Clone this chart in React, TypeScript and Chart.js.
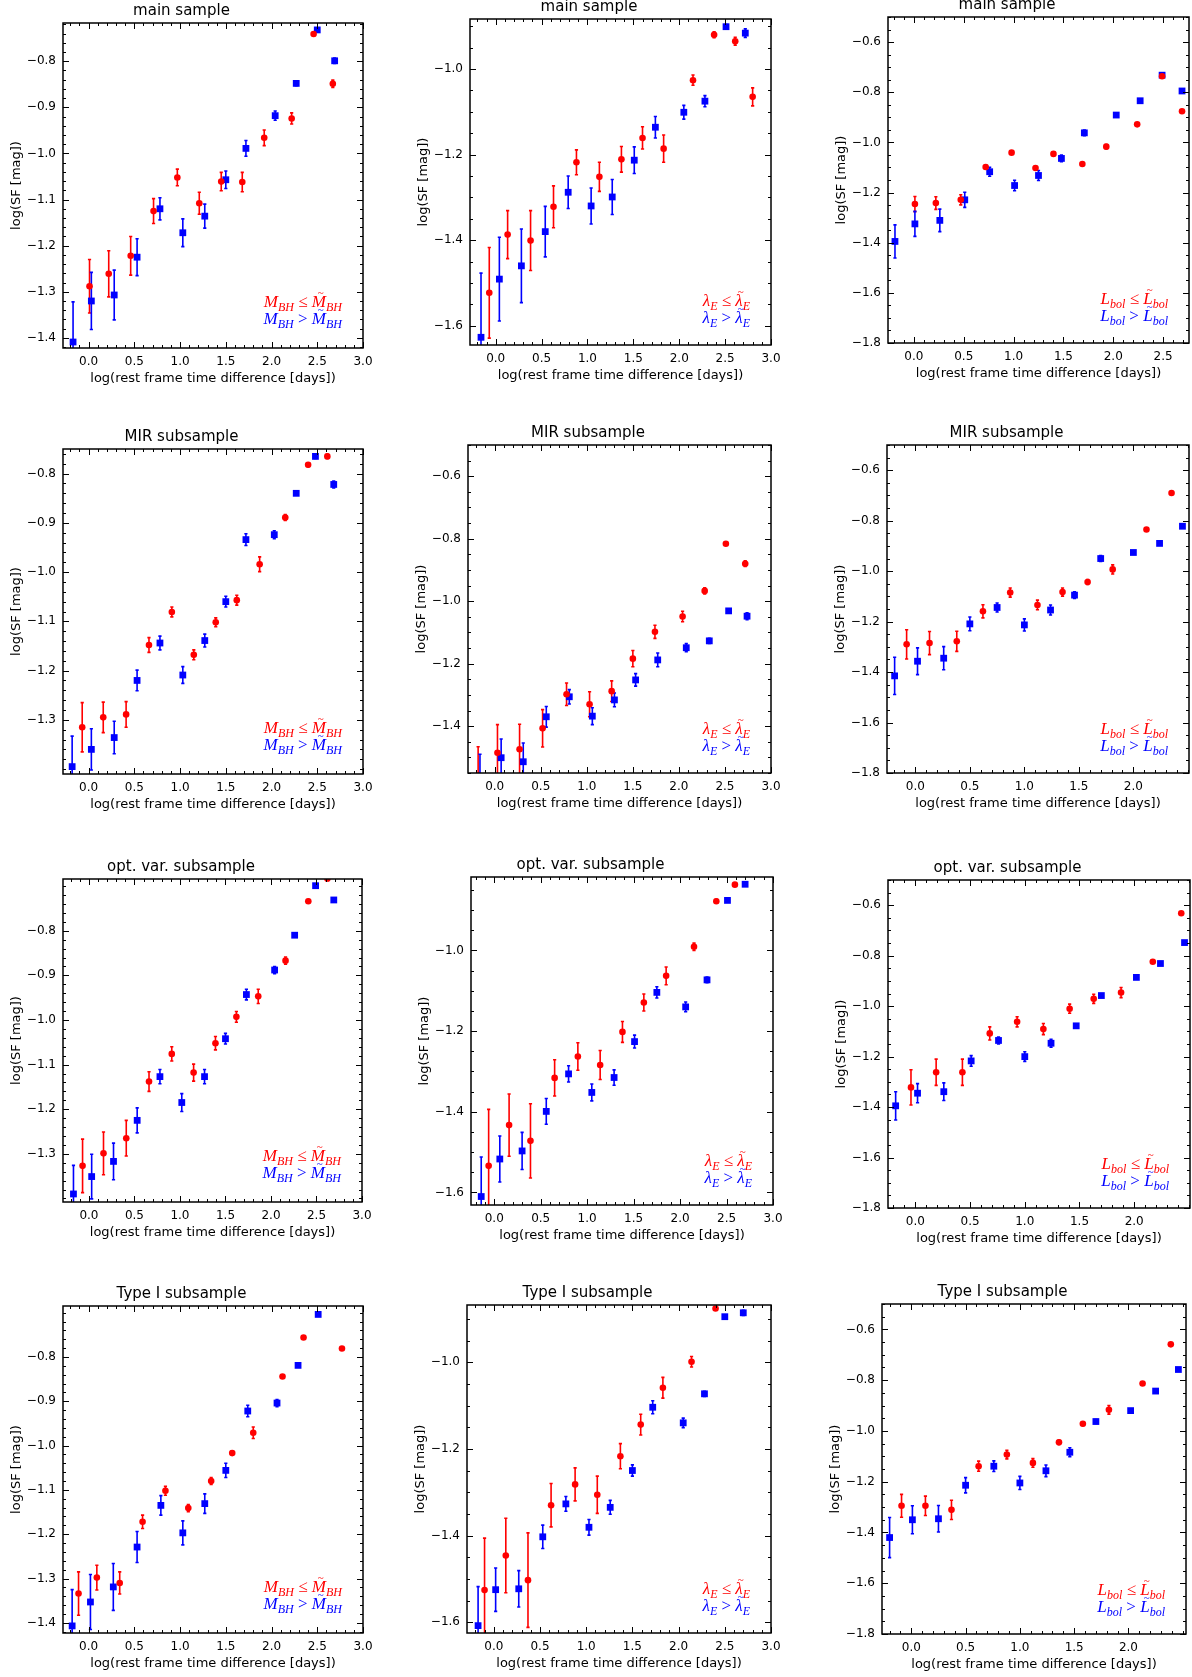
import React, { useEffect, useRef } from 'react';
import { Chart, registerables } from 'chart.js';

Chart.register(...registerables);

// ---------- Titles / tick labels ----------
const rowTitles = ['main sample', 'MIR subsample', 'opt. var. subsample', 'Type I subsample'];
const xTicksWide = [0, 0.5, 1.0, 1.5, 2.0, 2.5, 3.0];
const xTicksMid = [0, 0.5, 1.0, 1.5, 2.0, 2.5];
const xTicksShort = [0, 0.5, 1.0, 1.5, 2.0];
const yTicksCol1a = [-1.4, -1.3, -1.2, -1.1, -1.0, -0.9, -0.8];
const yTicksCol1b = [-1.3, -1.2, -1.1, -1.0, -0.9, -0.8];
const yTicksCol2a = [-1.6, -1.4, -1.2, -1.0];
const yTicksCol2b = [-1.4, -1.2, -1.0, -0.8, -0.6];
const yTicksCol3 = [-1.8, -1.6, -1.4, -1.2, -1.0, -0.8, -0.6];

// ---------- Panel 1: main sample, M_BH ----------
const p1RedX = [0.01, 0.22, 0.46, 0.71, 0.97, 1.21, 1.45, 1.68, 1.92, 2.22, 2.46, 2.67];
const p1RedY = [-1.288, -1.261, -1.222, -1.125, -1.052, -1.108, -1.061, -1.062, -0.966, -0.924, -0.741, -0.849];
const p1RedE = [0.058, 0.05, 0.042, 0.027, 0.018, 0.024, 0.02, 0.021, 0.017, 0.012, 0.004, 0.008];
const p1BlueX = [-0.17, 0.03, 0.28, 0.53, 0.78, 1.03, 1.27, 1.5, 1.72, 2.04, 2.27, 2.5, 2.69];
const p1BlueY = [-1.409, -1.32, -1.307, -1.225, -1.12, -1.172, -1.136, -1.057, -0.989, -0.918, -0.848, -0.732, -0.799];
const p1BlueE = [0.087, 0.062, 0.054, 0.04, 0.024, 0.03, 0.026, 0.019, 0.017, 0.01, 0.005, 0.004, 0.006];

// ---------- Panel 2: main sample, lambda_E ----------
const p2RedX = [-0.07, 0.13, 0.38, 0.63, 0.88, 1.13, 1.37, 1.6, 1.83, 2.15, 2.38, 2.61, 2.8];
const p2RedY = [-1.523, -1.387, -1.401, -1.322, -1.218, -1.252, -1.211, -1.161, -1.186, -1.026, -0.92, -0.935, -1.065];
const p2RedE = [0.106, 0.056, 0.07, 0.049, 0.029, 0.034, 0.03, 0.026, 0.032, 0.012, 0.007, 0.009, 0.021];
const p2BlueX = [-0.16, 0.04, 0.28, 0.54, 0.79, 1.04, 1.27, 1.51, 1.74, 2.05, 2.28, 2.51, 2.72];
const p2BlueY = [-1.627, -1.491, -1.46, -1.38, -1.288, -1.32, -1.299, -1.213, -1.136, -1.101, -1.075, -0.901, -0.916];
const p2BlueE = [0.15, 0.098, 0.086, 0.059, 0.038, 0.042, 0.041, 0.031, 0.025, 0.016, 0.013, 0.005, 0.01];

// ---------- Panel 3: main sample, L_bol ----------
const p3RedX = [0.01, 0.22, 0.47, 0.72, 0.98, 1.22, 1.4, 1.69, 1.93, 2.24, 2.49, 2.69];
const p3RedY = [-1.246, -1.242, -1.229, -1.098, -1.041, -1.102, -1.046, -1.086, -1.017, -0.928, -0.736, -0.876];
const p3RedE = [0.03, 0.025, 0.02, 0.008, 0.005, 0.006, 0.006, 0.005, 0.008, 0.005, 0.005, 0.006];
const p3BlueX = [-0.19, 0.01, 0.26, 0.51, 0.76, 1.01, 1.25, 1.48, 1.71, 2.03, 2.27, 2.49, 2.69];
const p3BlueY = [-1.395, -1.325, -1.311, -1.229, -1.117, -1.172, -1.132, -1.064, -0.962, -0.891, -0.834, -0.732, -0.795];
const p3BlueE = [0.066, 0.05, 0.045, 0.03, 0.018, 0.021, 0.02, 0.013, 0.011, 0.005, 0.005, 0.004, 0.004];

// ---------- Panel 4: MIR subsample, M_BH ----------
const p4RedX = [-0.07, 0.16, 0.41, 0.66, 0.91, 1.15, 1.39, 1.62, 1.87, 2.15, 2.4, 2.61];
const p4RedY = [-1.315, -1.295, -1.289, -1.148, -1.081, -1.168, -1.102, -1.057, -0.984, -0.889, -0.782, -0.765];
const p4RedE = [0.05, 0.031, 0.026, 0.015, 0.01, 0.01, 0.009, 0.01, 0.015, 0.006, 0.004, 0.004];
const p4BlueX = [-0.18, 0.03, 0.28, 0.53, 0.78, 1.03, 1.27, 1.5, 1.72, 2.03, 2.27, 2.48, 2.68];
const p4BlueY = [-1.395, -1.36, -1.336, -1.22, -1.144, -1.209, -1.139, -1.06, -0.934, -0.924, -0.84, -0.765, -0.822];
const p4BlueE = [0.062, 0.042, 0.033, 0.021, 0.014, 0.017, 0.013, 0.011, 0.012, 0.008, 0.004, 0.004, 0.007];

// ---------- Panel 5: MIR subsample, lambda_E ----------
const p5RedX = [-0.18, 0.03, 0.27, 0.52, 0.78, 1.03, 1.27, 1.5, 1.74, 2.04, 2.28, 2.51, 2.72];
const p5RedY = [-1.58, -1.485, -1.474, -1.407, -1.298, -1.33, -1.288, -1.184, -1.098, -1.049, -0.967, -0.816, -0.88];
const p5RedE = [0.114, 0.09, 0.08, 0.06, 0.036, 0.04, 0.033, 0.026, 0.021, 0.017, 0.01, 0.005, 0.009];
const p5BlueX = [-0.16, 0.07, 0.31, 0.56, 0.81, 1.06, 1.3, 1.53, 1.77, 2.08, 2.33, 2.54, 2.74];
const p5BlueY = [-1.58, -1.501, -1.514, -1.37, -1.306, -1.368, -1.316, -1.252, -1.188, -1.149, -1.127, -1.031, -1.048];
const p5BlueE = [0.09, 0.06, 0.06, 0.033, 0.023, 0.027, 0.022, 0.02, 0.022, 0.013, 0.008, 0.004, 0.011];

// ---------- Panel 6: MIR subsample, L_bol ----------
const p6RedX = [-0.08, 0.13, 0.38, 0.62, 0.87, 1.12, 1.35, 1.58, 1.81, 2.12, 2.35];
const p6RedY = [-1.29, -1.285, -1.278, -1.159, -1.085, -1.134, -1.083, -1.043, -0.993, -0.835, -0.69];
const p6RedE = [0.058, 0.046, 0.04, 0.026, 0.018, 0.019, 0.016, 0.01, 0.018, 0.004, 0.004];
const p6BlueX = [-0.19, 0.02, 0.26, 0.5, 0.75, 1.0, 1.24, 1.46, 1.7, 2.0, 2.24, 2.45];
const p6BlueY = [-1.415, -1.357, -1.345, -1.209, -1.144, -1.213, -1.154, -1.095, -0.95, -0.926, -0.89, -0.822];
const p6BlueE = [0.074, 0.053, 0.046, 0.027, 0.018, 0.024, 0.02, 0.013, 0.012, 0.004, 0.004, 0.004];

// ---------- Panel 7: opt. var. subsample, M_BH ----------
const p7RedX = [-0.07, 0.16, 0.41, 0.66, 0.91, 1.15, 1.39, 1.62, 1.86, 2.16, 2.41, 2.62];
const p7RedY = [-1.327, -1.299, -1.265, -1.138, -1.076, -1.118, -1.052, -0.993, -0.947, -0.867, -0.734, -0.683];
const p7RedE = [0.06, 0.048, 0.04, 0.022, 0.016, 0.019, 0.015, 0.012, 0.016, 0.008, 0.004, 0.004];
const p7BlueX = [-0.17, 0.03, 0.27, 0.53, 0.78, 1.02, 1.27, 1.5, 1.73, 2.04, 2.26, 2.49, 2.69];
const p7BlueY = [-1.39, -1.351, -1.317, -1.225, -1.127, -1.185, -1.127, -1.042, -0.943, -0.888, -0.81, -0.699, -0.731];
const p7BlueE = [0.064, 0.05, 0.041, 0.028, 0.016, 0.02, 0.016, 0.012, 0.012, 0.008, 0.004, 0.004, 0.004];

// ---------- Panel 8: opt. var. subsample, lambda_E ----------
const p8RedX = [-0.06, 0.16, 0.39, 0.65, 0.9, 1.14, 1.38, 1.61, 1.85, 2.15, 2.39, 2.59];
const p8RedY = [-1.534, -1.433, -1.472, -1.316, -1.263, -1.284, -1.202, -1.129, -1.063, -0.991, -0.878, -0.837];
const p8RedE = [0.14, 0.077, 0.092, 0.045, 0.034, 0.036, 0.026, 0.021, 0.022, 0.009, 0.005, 0.004];
const p8BlueX = [-0.14, 0.06, 0.3, 0.56, 0.8, 1.05, 1.29, 1.51, 1.75, 2.06, 2.29, 2.51, 2.7];
const p8BlueY = [-1.61, -1.517, -1.497, -1.399, -1.306, -1.352, -1.315, -1.226, -1.104, -1.14, -1.073, -0.876, -0.836];
const p8BlueE = [0.098, 0.057, 0.046, 0.032, 0.02, 0.021, 0.019, 0.016, 0.014, 0.012, 0.007, 0.004, 0.004];

// ---------- Panel 9: opt. var. subsample, L_bol ----------
const p9RedX = [-0.04, 0.19, 0.43, 0.68, 0.93, 1.17, 1.41, 1.63, 1.88, 2.17, 2.43];
const p9RedY = [-1.322, -1.262, -1.262, -1.108, -1.062, -1.091, -1.01, -0.971, -0.946, -0.824, -0.632];
const p9RedE = [0.07, 0.052, 0.052, 0.026, 0.02, 0.022, 0.018, 0.018, 0.02, 0.005, 0.004];
const p9BlueX = [-0.18, 0.02, 0.26, 0.51, 0.76, 1.0, 1.24, 1.47, 1.7, 2.02, 2.24, 2.46];
const p9BlueY = [-1.395, -1.345, -1.339, -1.217, -1.136, -1.2, -1.147, -1.078, -0.958, -0.886, -0.831, -0.748];
const p9BlueE = [0.056, 0.038, 0.035, 0.021, 0.014, 0.019, 0.016, 0.008, 0.006, 0.006, 0.005, 0.005];

// ---------- Panel 10: Type I subsample, M_BH ----------
const p10RedX = [-0.11, 0.09, 0.34, 0.59, 0.84, 1.09, 1.34, 1.57, 1.8, 2.12, 2.35, 2.77];
const p10RedY = [-1.334, -1.298, -1.31, -1.172, -1.102, -1.141, -1.08, -1.017, -0.971, -0.844, -0.756, -0.781];
const p10RedE = [0.049, 0.028, 0.025, 0.015, 0.01, 0.008, 0.008, 0.005, 0.013, 0.004, 0.004, 0.004];
const p10BlueX = [-0.18, 0.02, 0.27, 0.53, 0.79, 1.03, 1.27, 1.5, 1.74, 2.06, 2.29, 2.51];
const p10BlueY = [-1.407, -1.353, -1.319, -1.229, -1.135, -1.197, -1.131, -1.056, -0.922, -0.904, -0.819, -0.704];
const p10BlueE = [0.082, 0.062, 0.053, 0.035, 0.022, 0.027, 0.022, 0.016, 0.013, 0.008, 0.004, 0.004];

// ---------- Panel 11: Type I subsample, lambda_E ----------
const p11RedX = [-0.1, 0.13, 0.37, 0.62, 0.88, 1.12, 1.37, 1.59, 1.83, 2.14, 2.4];
const p11RedY = [-1.526, -1.446, -1.503, -1.33, -1.282, -1.306, -1.217, -1.144, -1.059, -0.999, -0.876];
const p11RedE = [0.12, 0.086, 0.109, 0.05, 0.038, 0.043, 0.029, 0.024, 0.024, 0.012, 0.004];
const p11BlueX = [-0.17, 0.02, 0.27, 0.53, 0.78, 1.03, 1.26, 1.5, 1.72, 2.05, 2.28, 2.5, 2.7];
const p11BlueY = [-1.608, -1.525, -1.523, -1.403, -1.327, -1.381, -1.335, -1.25, -1.104, -1.14, -1.073, -0.895, -0.886];
const p11BlueE = [0.09, 0.05, 0.042, 0.027, 0.017, 0.018, 0.016, 0.013, 0.015, 0.011, 0.006, 0.004, 0.006];

// ---------- Panel 12: Type I subsample, L_bol ----------
const p12RedX = [-0.09, 0.13, 0.37, 0.62, 0.88, 1.12, 1.36, 1.58, 1.82, 2.13, 2.39];
const p12RedY = [-1.295, -1.295, -1.311, -1.139, -1.093, -1.126, -1.045, -0.972, -0.917, -0.813, -0.659];
const p12RedE = [0.045, 0.038, 0.038, 0.02, 0.017, 0.017, 0.008, 0.006, 0.017, 0.004, 0.004];
const p12BlueX = [-0.2, 0.01, 0.25, 0.5, 0.76, 1.0, 1.24, 1.46, 1.7, 2.02, 2.25, 2.46];
const p12BlueY = [-1.42, -1.35, -1.346, -1.214, -1.139, -1.205, -1.157, -1.084, -0.963, -0.92, -0.843, -0.758];
const p12BlueE = [0.079, 0.055, 0.052, 0.03, 0.021, 0.026, 0.023, 0.018, 0.008, 0.004, 0.004, 0.004];

// ---------- Styles ----------
const RED = '#ff0000';
const BLUE = '#0000ff';
const INK = '#000000';
const SANS = '"DejaVu Sans", sans-serif';
const SERIF = '"Liberation Serif", "DejaVu Serif", serif';
const Y_AXIS_W = 63;
const X_AXIS_H = 48;
const TOP_H = 24;
const RIGHT_PAD = 22;

type Panel = {
  title: string;
  legend: 'M' | 'lambda' | 'L';
  red: number[][];
  blue: number[][];
  xr: number[];
  yr: number[];
  xTicks: number[];
  yTicks: number[];
  yMinor: number;
  box: number[]; // left, top, width, height of plot area on page
};

const PANELS: Panel[] = [
  { title: rowTitles[0], legend: 'M', red: [p1RedX, p1RedY, p1RedE], blue: [p1BlueX, p1BlueY, p1BlueE], xr: [-0.28, 3.0], yr: [-1.422, -0.717], xTicks: xTicksWide, yTicks: yTicksCol1a, yMinor: 0.02, box: [63, 23, 300, 325] },
  { title: rowTitles[0], legend: 'lambda', red: [p2RedX, p2RedY, p2RedE], blue: [p2BlueX, p2BlueY, p2BlueE], xr: [-0.28, 3.0], yr: [-1.645, -0.883], xTicks: xTicksWide, yTicks: yTicksCol2a, yMinor: 0.05, box: [470, 19, 301, 326] },
  { title: rowTitles[0], legend: 'L', red: [p3RedX, p3RedY, p3RedE], blue: [p3BlueX, p3BlueY, p3BlueE], xr: [-0.26, 2.76], yr: [-1.8, -0.5], xTicks: xTicksMid, yTicks: yTicksCol3, yMinor: 0.05, box: [888, 17, 301, 326] },
  { title: rowTitles[1], legend: 'M', red: [p4RedX, p4RedY, p4RedE], blue: [p4BlueX, p4BlueY, p4BlueE], xr: [-0.28, 3.0], yr: [-1.41, -0.75], xTicks: xTicksWide, yTicks: yTicksCol1b, yMinor: 0.02, box: [63, 449, 300, 325] },
  { title: rowTitles[1], legend: 'lambda', red: [p5RedX, p5RedY, p5RedE], blue: [p5BlueX, p5BlueY, p5BlueE], xr: [-0.29, 3.0], yr: [-1.55, -0.5], xTicks: xTicksWide, yTicks: yTicksCol2b, yMinor: 0.05, box: [468, 445, 303, 328] },
  { title: rowTitles[1], legend: 'L', red: [p6RedX, p6RedY, p6RedE], blue: [p6BlueX, p6BlueY, p6BlueE], xr: [-0.26, 2.51], yr: [-1.8, -0.5], xTicks: xTicksShort, yTicks: yTicksCol3, yMinor: 0.05, box: [887, 445, 302, 328] },
  { title: rowTitles[2], legend: 'M', red: [p7RedX, p7RedY, p7RedE], blue: [p7BlueX, p7BlueY, p7BlueE], xr: [-0.285, 3.0], yr: [-1.408, -0.684], xTicks: xTicksWide, yTicks: yTicksCol1b, yMinor: 0.02, box: [63, 879, 299, 323] },
  { title: rowTitles[2], legend: 'lambda', red: [p8RedX, p8RedY, p8RedE], blue: [p8BlueX, p8BlueY, p8BlueE], xr: [-0.25, 3.0], yr: [-1.631, -0.818], xTicks: xTicksWide, yTicks: yTicksCol2a, yMinor: 0.05, box: [471, 877, 302, 328] },
  { title: rowTitles[2], legend: 'L', red: [p9RedX, p9RedY, p9RedE], blue: [p9BlueX, p9BlueY, p9BlueE], xr: [-0.25, 2.51], yr: [-1.8, -0.5], xTicks: xTicksShort, yTicks: yTicksCol3, yMinor: 0.05, box: [888, 880, 302, 328] },
  { title: rowTitles[3], legend: 'M', red: [p10RedX, p10RedY, p10RedE], blue: [p10BlueX, p10BlueY, p10BlueE], xr: [-0.28, 3.0], yr: [-1.423, -0.685], xTicks: xTicksWide, yTicks: yTicksCol1a, yMinor: 0.02, box: [63, 1306, 300, 327] },
  { title: rowTitles[3], legend: 'lambda', red: [p11RedX, p11RedY, p11RedE], blue: [p11BlueX, p11BlueY, p11BlueE], xr: [-0.29, 3.0], yr: [-1.625, -0.868], xTicks: xTicksWide, yTicks: yTicksCol2a, yMinor: 0.05, box: [467, 1305, 304, 328] },
  { title: rowTitles[3], legend: 'L', red: [p12RedX, p12RedY, p12RedE], blue: [p12BlueX, p12BlueY, p12BlueE], xr: [-0.27, 2.53], yr: [-1.8, -0.5], xTicks: xTicksShort, yTicks: yTicksCol3, yMinor: 0.05, box: [882, 1304, 304, 330] },
];

const fmtTick = (v: number) => (v < 0 ? '\u2212' : '') + Math.abs(v).toFixed(1);

// ---------- Plugins ----------
const errorBarPlugin = {
  id: 'errbars',
  beforeDatasetsDraw(chart: any) {
    const { ctx, chartArea: a, scales } = chart;
    const xs = scales.x, ys = scales.y;
    ctx.save();
    ctx.beginPath();
    ctx.rect(a.left, a.top, a.right - a.left, a.bottom - a.top);
    ctx.clip();
    chart.data.datasets.forEach((ds: any) => {
      ctx.strokeStyle = ds.borderColor;
      ctx.lineWidth = 1.6;
      ds.data.forEach((p: any, i: number) => {
        const e = ds.errs[i];
        const px = xs.getPixelForValue(p.x);
        const y1 = ys.getPixelForValue(p.y + e);
        const y2 = ys.getPixelForValue(p.y - e);
        ctx.beginPath();
        ctx.moveTo(px, y1);
        ctx.lineTo(px, y2);
        ctx.moveTo(px - 1.6, y1);
        ctx.lineTo(px + 1.6, y1);
        ctx.moveTo(px - 1.6, y2);
        ctx.lineTo(px + 1.6, y2);
        ctx.stroke();
      });
    });
    ctx.restore();
  },
};

function minorValues(min: number, max: number, step: number) {
  const out: number[] = [];
  const k0 = Math.ceil(min / step - 1e-9);
  const k1 = Math.floor(max / step + 1e-9);
  for (let k = k0; k <= k1; k++) out.push(k * step);
  return out;
}

const framePlugin = {
  id: 'frame',
  afterDatasetsDraw(chart: any, _args: any, opts: any) {
    const { ctx, chartArea: a, scales } = chart;
    const xs = scales.x, ys = scales.y;
    ctx.save();
    ctx.strokeStyle = INK;
    ctx.lineWidth = 1;
    const MAJ = 6, MIN = 3;
    const xMin = minorValues(xs.min, xs.max, opts.xMinor);
    const yMin = minorValues(ys.min, ys.max, opts.yMinor);
    ctx.beginPath();
    xMin.forEach((v) => {
      const px = Math.round(xs.getPixelForValue(v)) + 0.5;
      ctx.moveTo(px, a.bottom); ctx.lineTo(px, a.bottom - MIN);
      ctx.moveTo(px, a.top); ctx.lineTo(px, a.top + MIN);
    });
    yMin.forEach((v) => {
      const py = Math.round(ys.getPixelForValue(v)) + 0.5;
      ctx.moveTo(a.left, py); ctx.lineTo(a.left + MIN, py);
      ctx.moveTo(a.right, py); ctx.lineTo(a.right - MIN, py);
    });
    xs.ticks.forEach((t: any) => {
      const px = Math.round(xs.getPixelForValue(t.value)) + 0.5;
      ctx.moveTo(px, a.bottom); ctx.lineTo(px, a.bottom - MAJ);
      ctx.moveTo(px, a.top); ctx.lineTo(px, a.top + MAJ);
    });
    ys.ticks.forEach((t: any) => {
      const py = Math.round(ys.getPixelForValue(t.value)) + 0.5;
      ctx.moveTo(a.left, py); ctx.lineTo(a.left + MAJ, py);
      ctx.moveTo(a.right, py); ctx.lineTo(a.right - MAJ, py);
    });
    ctx.stroke();
    ctx.lineWidth = 1.5;
    ctx.strokeRect(a.left, a.top, a.right - a.left, a.bottom - a.top);
    ctx.restore();
  },
};

type Part = { t: string; sub?: boolean; italic?: boolean; tilde?: boolean };

function legendParts(kind: string, op: string): Part[] {
  const main = kind === 'M' ? 'M' : kind === 'L' ? 'L' : '\u03bb';
  const sub = kind === 'M' ? 'BH' : kind === 'L' ? 'bol' : 'E';
  return [
    { t: main, italic: true },
    { t: sub, italic: true, sub: true },
    { t: ' ' + op + ' ' },
    { t: main, italic: true, tilde: true },
    { t: sub, italic: true, sub: true },
  ];
}

function drawMathLine(ctx: any, parts: Part[], rightX: number, baseline: number, color: string) {
  const fontOf = (p: Part) => `${p.italic ? 'italic ' : ''}${p.sub ? 12 : 17}px ${SERIF}`;
  let total = 0;
  parts.forEach((p) => {
    ctx.font = fontOf(p);
    total += ctx.measureText(p.t).width;
  });
  let cx = rightX - total;
  ctx.fillStyle = color;
  ctx.textBaseline = 'alphabetic';
  parts.forEach((p) => {
    ctx.font = fontOf(p);
    const w = ctx.measureText(p.t).width;
    ctx.textAlign = 'left';
    ctx.fillText(p.t, cx, baseline + (p.sub ? 4 : 0));
    if (p.tilde) {
      ctx.font = `11px ${SERIF}`;
      ctx.textAlign = 'center';
      ctx.fillText('~', cx + w / 2 + 1.8, baseline - 11.5);
      ctx.textAlign = 'left';
    }
    cx += w;
  });
}

const mathLegendPlugin = {
  id: 'mathLegend',
  afterDraw(chart: any, _args: any, opts: any) {
    const { ctx, chartArea: a } = chart;
    ctx.save();
    const right = a.right - 21;
    const isM = opts.kind === 'M';
    drawMathLine(ctx, legendParts(opts.kind, '\u2264'), right, a.bottom - (isM ? 41 : 39), RED);
    drawMathLine(ctx, legendParts(opts.kind, '>'), right, a.bottom - (isM ? 24 : 22), BLUE);
    ctx.restore();
  },
};

function PanelChart({ p }: { p: Panel }) {
  const ref = useRef<HTMLCanvasElement>(null);
  const [left, top, w, h] = p.box;
  const cw = Y_AXIS_W + w + RIGHT_PAD;
  const ch = TOP_H + h + X_AXIS_H;

  useEffect(() => {
    const toPts = (s: number[][]) => s[0].map((x, i) => ({ x, y: s[1][i] }));
    const chart = new Chart(ref.current as HTMLCanvasElement, {
      type: 'scatter',
      data: {
        datasets: [
          {
            data: toPts(p.red),
            errs: p.red[2],
            backgroundColor: RED,
            borderColor: RED,
            pointStyle: 'circle',
            pointRadius: 3.3,
            pointBorderWidth: 0,
            clip: 0,
          } as any,
          {
            data: toPts(p.blue),
            errs: p.blue[2],
            backgroundColor: BLUE,
            borderColor: BLUE,
            pointStyle: 'rect',
            pointRadius: 4.8,
            pointBorderWidth: 0,
            clip: 0,
          } as any,
        ],
      },
      options: {
        responsive: false,
        maintainAspectRatio: false,
        animation: false,
        devicePixelRatio: 1,
        events: [],
        layout: { padding: { left: 0, right: RIGHT_PAD, top: 0, bottom: 0 }, autoPadding: false },
        plugins: {
          legend: { display: false },
          tooltip: { enabled: false },
          title: {
            display: true,
            text: p.title,
            color: INK,
            font: { family: SANS, size: 15, weight: 'normal' },
            padding: { top: 3, bottom: 3 },
          },
          frame: { xMinor: 0.1, yMinor: p.yMinor },
          mathLegend: { kind: p.legend },
        } as any,
        scales: {
          x: {
            type: 'linear',
            position: 'bottom',
            min: p.xr[0],
            max: p.xr[1],
            grid: { display: false, drawTicks: false },
            border: { display: false },
            afterBuildTicks: (s: any) => {
              s.ticks = p.xTicks.map((v) => ({ value: v }));
            },
            afterFit: (s: any) => {
              s.height = X_AXIS_H;
              s.paddingLeft = 0;
              s.paddingRight = 0;
            },
            ticks: {
              autoSkip: false,
              maxRotation: 0,
              minRotation: 0,
              padding: 7,
              color: INK,
              font: { family: SANS, size: 12 },
              callback: (v: any) => fmtTick(Number(v)),
            },
            title: {
              display: true,
              text: 'log(rest frame time difference [days])',
              color: INK,
              font: { family: SANS, size: 13 },
              padding: { top: 0, bottom: 10 },
            },
          },
          y: {
            type: 'linear',
            position: 'left',
            min: p.yr[0],
            max: p.yr[1],
            grid: { display: false, drawTicks: false },
            border: { display: false },
            afterBuildTicks: (s: any) => {
              s.ticks = p.yTicks.map((v) => ({ value: v }));
            },
            afterFit: (s: any) => {
              s.width = Y_AXIS_W;
              s.paddingTop = 0;
              s.paddingBottom = 0;
            },
            ticks: {
              autoSkip: false,
              padding: 7,
              color: INK,
              font: { family: SANS, size: 12 },
              callback: (v: any) => fmtTick(Number(v)),
            },
            title: {
              display: true,
              text: 'log(SF [mag])',
              color: INK,
              font: { family: SANS, size: 13 },
              padding: { top: 9, bottom: 0 },
            },
          },
        },
      } as any,
      plugins: [errorBarPlugin, framePlugin, mathLegendPlugin],
    });
    return () => chart.destroy();
  }, []);

  return (
    <canvas
      ref={ref}
      width={cw}
      height={ch}
      style={{
        position: 'absolute',
        left: left - Y_AXIS_W,
        top: top - TOP_H,
        width: cw,
        height: ch,
      }}
    />
  );
}

export default function App() {
  return (
    <div
      style={{
        position: 'absolute',
        left: 0,
        top: 0,
        width: 1192,
        height: 1677,
        overflow: 'hidden',
        background: '#ffffff',
      }}
    >
      {PANELS.map((p, i) => (
        <PanelChart key={i} p={p} />
      ))}
    </div>
  );
}
